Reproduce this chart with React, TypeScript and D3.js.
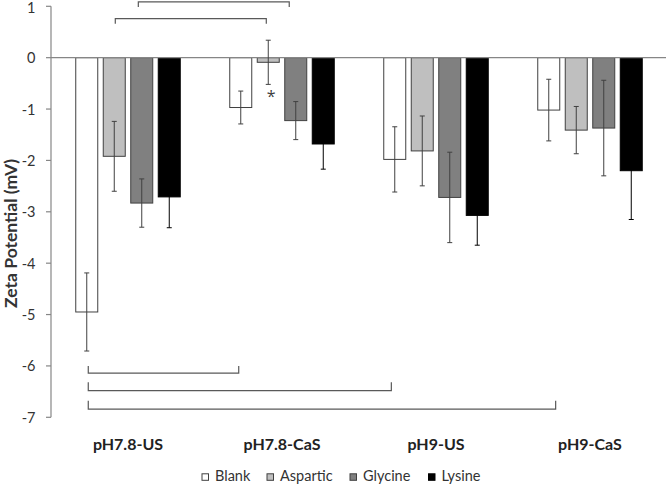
import React from "react";
import * as d3 from "d3";

const groups = ["pH7.8-US", "pH7.8-CaS", "pH9-US", "pH9-CaS"];
const seriesNames = ["Blank", "Aspartic", "Glycine", "Lysine"];
const seriesColors = ["#ffffff", "#bfbfbf", "#808080", "#000000"];

// mean values per series, in group order
const blankValues = [-4.95, -0.97, -1.98, -1.02];
const asparticValues = [-1.92, -0.09, -1.815, -1.41];
const glycineValues = [-2.83, -1.225, -2.72, -1.37];
const lysineValues = [-2.71, -1.68, -3.07, -2.2];

// error (± standard deviation)
const blankErrors = [0.76, 0.32, 0.635, 0.6];
const asparticErrors = [0.68, 0.43, 0.68, 0.46];
const glycineErrors = [0.47, 0.37, 0.88, 0.93];
const lysineErrors = [0.6, 0.49, 0.58, 0.95];

const yTicks = [1, 0, -1, -2, -3, -4, -5, -6, -7];

// significance brackets: x in group units (0..4), y in mV
const bracketX1 = [0.567, 0.4175, 0.242, 0.242, 0.242];
const bracketX2 = [1.547, 1.398, 1.219, 2.21, 3.277];
const bracketY = [1.085, 0.76, -6.14, -6.48, -6.84];
const bracketTick = [-0.1, -0.1, 0.14, 0.16, 0.16];

const W = 666;
const H = 486;

export default function App() {
  const values = [blankValues, asparticValues, glycineValues, lysineValues];
  const errors = [blankErrors, asparticErrors, glycineErrors, lysineErrors];

  const y = d3.scaleLinear().domain([-7, 1]).range([417.3, 6.3]);
  const x = d3.scaleBand<string>().domain(groups).range([51, 667]).padding(0);
  const xs = d3
    .scaleBand<string>()
    .domain(seriesNames)
    .range([0, x.bandwidth()])
    .paddingInner(0.2)
    .paddingOuter(0.9);
  const xu = d3.scaleLinear().domain([0, 4]).range([51, 667]);

  const font = "Lato, 'Open Sans', 'DejaVu Sans', sans-serif";
  const textColor = "#333333";
  const axisColor = "#868686";
  const barStroke = "#404040";

  const y0 = y(0);
  const cap = 2.5;
  const legendX = [202, 267, 350, 428.5];

  return (
    <svg
      width={W}
      height={H}
      viewBox={`0 0 ${W} ${H}`}
      style={{ position: "absolute", left: 0, top: 0, background: "#fff" }}
      fontFamily={font}
    >
      <rect x={0} y={0} width={W} height={H} fill="#fff" />
      {/* bars */}
      {seriesNames.map((s, si) =>
        groups.map((g, gi) => {
          const v = values[si][gi];
          const bx = (x(g) as number) + (xs(s) as number);
          const top = Math.min(y(v), y0);
          const h = Math.abs(y(v) - y0);
          return (
            <rect
              key={`b-${s}-${g}`}
              x={bx}
              y={top}
              width={xs.bandwidth()}
              height={h}
              fill={seriesColors[si]}
              stroke={si === 3 ? "#000" : barStroke}
              strokeWidth={1}
            />
          );
        })
      )}
      {/* zero line */}
      <line x1={51} x2={666} y1={y0} y2={y0} stroke={axisColor} strokeWidth={1.2} />
      {/* error bars */}
      {seriesNames.map((s, si) =>
        groups.map((g, gi) => {
          const v = values[si][gi];
          const e = errors[si][gi];
          const cx = (x(g) as number) + (xs(s) as number) + xs.bandwidth() / 2;
          const ya = y(v + e);
          const yb = y(v - e);
          const col = si === 3 ? "#000" : "#404040";
          return (
            <g key={`e-${s}-${g}`} stroke={col} strokeWidth={1}>
              <line x1={cx} x2={cx} y1={ya} y2={yb} />
              <line x1={cx - cap} x2={cx + cap} y1={ya} y2={ya} />
              <line x1={cx - cap} x2={cx + cap} y1={yb} y2={yb} />
            </g>
          );
        })
      )}
      {/* y axis */}
      <line x1={51} x2={51} y1={y(1)} y2={y(-7)} stroke={axisColor} strokeWidth={1.2} />
      {yTicks.map((t) => (
        <g key={`t-${t}`}>
          <line x1={46} x2={51} y1={y(t)} y2={y(t)} stroke={axisColor} strokeWidth={1.2} />
          <text
            x={35.5}
            y={Math.max(y(t), 7.5)}
            textAnchor="end"
            dominantBaseline="central"
            fontSize={14.5}
            fill={textColor}
          >
            {t}
          </text>
        </g>
      ))}
      {/* y title */}
      <text
        transform={`translate(10, ${y(-3.42)}) rotate(-90)`}
        textAnchor="middle"
        dominantBaseline="central"
        fontSize={17.5}
        fontWeight="bold"
        fill={textColor}
      >
        Zeta Potential (mV)
      </text>
      {/* x labels */}
      {groups.map((g) => (
        <text
          key={`xl-${g}`}
          x={(x(g) as number) + x.bandwidth() / 2}
          y={450}
          textAnchor="middle"
          fontSize={16}
          fontWeight="bold"
          fill="#222222"
        >
          {g}
        </text>
      ))}
      {/* brackets */}
      {bracketX1.map((bx1, i) => {
        const x1 = xu(bx1);
        const x2 = xu(bracketX2[i]);
        const yy = y(bracketY[i]);
        const yt = y(bracketY[i] + bracketTick[i]);
        return (
          <path
            key={`br-${i}`}
            d={`M${x1},${yt}L${x1},${yy}L${x2},${yy}L${x2},${yt}`}
            fill="none"
            stroke="#595959"
            strokeWidth={1.2}
          />
        );
      })}
      {/* asterisk */}
      <text
        x={(x(groups[1]) as number) + (xs(seriesNames[1]) as number) + xs.bandwidth() / 2 + 3}
        y={y(-0.69) + 9}
        textAnchor="middle"
        fontSize={16}
        fontFamily="'Open Sans', sans-serif"
        fill="#404040"
      >
        *
      </text>
      {/* legend */}
      {seriesNames.map((s, si) => {
        const lx = legendX[si];
        return (
          <g key={`lg-${s}`}>
            <rect
              x={lx}
              y={473.8}
              width={6.5}
              height={6.5}
              fill={seriesColors[si]}
              stroke={si === 3 ? "#000" : barStroke}
              strokeWidth={1}
            />
            <text x={lx + 13} y={481.3} fontSize={14.5} fill={textColor}>
              {s}
            </text>
          </g>
        );
      })}
    </svg>
  );
}
